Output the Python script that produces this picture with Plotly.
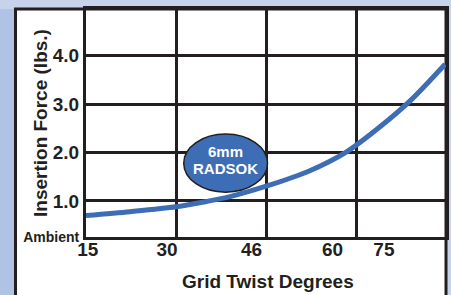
import plotly.graph_objects as go

# ---- data ----
grid_pos = [0.0, 0.49, 1.0, 1.34, 1.6, 2.01, 2.48, 2.9, 3.26, 3.61, 3.99]
insertion_force = [0.70, 0.78, 0.88, 0.99, 1.09, 1.31, 1.62, 2.02, 2.52, 3.08, 3.82]

x_tick_labels = ["15", "30", "46", "60", "75"]
x_tick_pos = [0.02, 0.9, 1.84, 2.74, 3.31]

y_tick_vals = [0.29, 1, 2, 3, 4]
y_tick_labels = ['<span style="font-size:14px">Ambient</span>', "1.0", "2.0", "3.0", "4.0"]

series_label = ["6mm", "RADSOK"]

DARK = "#231f20"
BLUE = "#3d6db5"
FONT = "Liberation Sans, Arial, Helvetica, sans-serif"

fig = go.Figure()
fig.add_trace(go.Scatter(
    x=grid_pos, y=insertion_force, mode="lines",
    line=dict(color=BLUE, width=5, shape="spline", smoothing=0.8),
    hoverinfo="skip", showlegend=False,
))

shapes = [
    # background strips
    dict(type="rect", xref="paper", yref="paper", x0=-0.3, x1=1.1, y0=-0.4, y1=1.1,
         fillcolor="#c6d3ea", line=dict(width=0), layer="below"),
    dict(type="rect", xref="paper", yref="paper", x0=-0.3, x1=-0.19, y0=-0.4, y1=1.0,
         fillcolor="#b1c3e4", line=dict(width=0), layer="below"),
    # outer white box
    dict(type="rect", xref="paper", yref="paper", x0=-0.1958, x1=1.0, y0=-0.3, y1=1.0,
         fillcolor="white", line=dict(color=DARK, width=3), layer="below"),
    # label ellipse
    dict(type="circle", xref="x", yref="y", x0=1.086, x1=2.017, y0=1.18, y1=2.38,
         fillcolor=BLUE, line=dict(color=DARK, width=1.5), layer="above"),
]

annotations = [
    dict(text=series_label[0], x=1.55, y=2.02, xref="x", yref="y", showarrow=False,
         font=dict(family=FONT, size=15, color="white", weight="bold")),
    dict(text=series_label[1], x=1.55, y=1.66, xref="x", yref="y", showarrow=False,
         font=dict(family=FONT, size=15, color="white", weight="bold")),
    dict(text="Insertion Force (lbs.)", x=-0.1278, y=0.5, xref="paper", yref="paper",
         textangle=-90, showarrow=False, xanchor="center", yanchor="middle",
         font=dict(family=FONT, size=19, color=DARK, weight="bold")),
    dict(text="Grid Twist Degrees", x=0.5056, y=-0.197, xref="paper", yref="paper",
         showarrow=False, xanchor="center", yanchor="middle",
         font=dict(family=FONT, size=19, color=DARK, weight="bold")),
]

fig.update_layout(
    width=451, height=295,
    margin=dict(l=86, r=5, t=9, b=58),
    paper_bgcolor="#c6d3ea", plot_bgcolor="white",
    shapes=shapes, annotations=annotations,
    xaxis=dict(
        range=[0, 4], tickvals=x_tick_pos, ticktext=x_tick_labels,
        showgrid=False, zeroline=False, ticks="", automargin=False,
        ticklabelstandoff=-7,
        showline=True, mirror=True, linecolor=DARK, linewidth=3,
        tickfont=dict(family=FONT, size=19, color=DARK, weight="bold"),
        minor=dict(tick0=0, dtick=1, showgrid=True, gridcolor=DARK, gridwidth=3, ticks=""),
        fixedrange=True,
    ),
    yaxis=dict(
        range=[0.257, 4.96], tickvals=y_tick_vals, ticktext=y_tick_labels,
        showgrid=False, zeroline=False, ticks="", automargin=False,
        showline=True, mirror=True, linecolor=DARK, linewidth=3,
        tickfont=dict(family=FONT, size=19, color=DARK, weight="bold"),
        minor=dict(tick0=0, dtick=1, showgrid=True, gridcolor=DARK, gridwidth=2.5, ticks=""),
        fixedrange=True,
    ),
)

fig.write_html(
    "out.html",
    config=dict(displayModeBar=False),
    post_script="document.body.style.margin='0';document.body.style.overflow='hidden';",
)
